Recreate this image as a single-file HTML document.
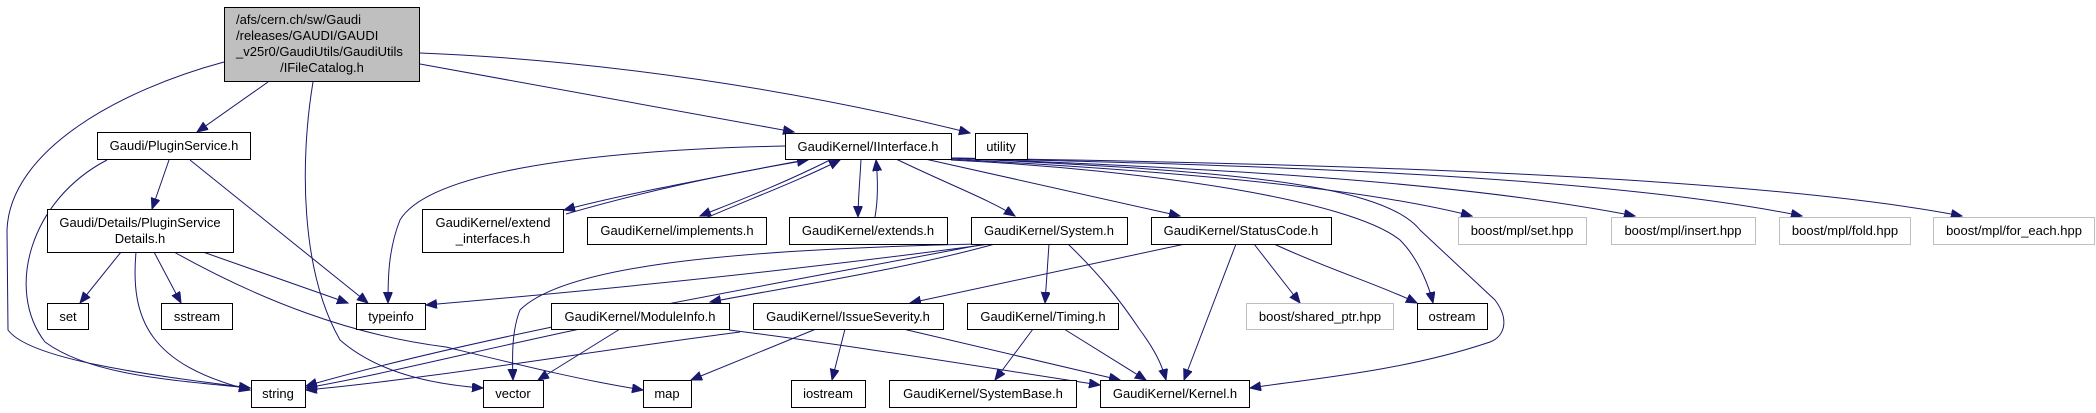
<!DOCTYPE html>
<html><head><meta charset="utf-8"><style>
html,body{margin:0;padding:0;background:#fff;}
svg{display:block;}
text{font-family:"Liberation Sans",Arial,sans-serif;font-size:13px;fill:#000;}
.e{fill:none;stroke:#191970;stroke-width:1;}
.n{fill:#fff;stroke:#000;stroke-width:1;}
.g{fill:#fff;stroke:#bfbfbf;stroke-width:1;}
</style></head><body>
<svg width="2096" height="413" viewBox="0 0 2096 413" xmlns="http://www.w3.org/2000/svg">
<defs>
<marker id="a" markerUnits="userSpaceOnUse" markerWidth="12" markerHeight="10" refX="11" refY="4.5" orient="auto">
<path d="M0,0 L11,4.5 L0,9 z" fill="#191970" stroke="#191970"/>
</marker>
</defs>
<g class="e" marker-end="url(#a)">
<!-- root -->
<path d="M224,62 C120,90 10,150 7,230 L8,330 C30,360 150,375 250,388"/>
<path d="M268,82 L197,132"/>
<path d="M313,82 C300,160 300,270 340,340 C380,375 440,385 483,388"/>
<path d="M420,64 L794,132"/>
<path d="M420,53 C600,60 800,90 970,133"/>
<!-- PluginService -->
<path d="M107,160 C30,200 5,290 45,342 C90,375 170,380 250,388"/>
<path d="M169,160 L152,209"/>
<path d="M190,160 L368,303"/>
<!-- Details -->
<path d="M121,252 L80,303"/>
<path d="M136,252 C130,320 150,365 250,390"/>
<path d="M154,252 L181,303"/>
<path d="M203,252 L348,303"/>
<path d="M174,252 C260,300 350,335 446,347 C520,365 580,380 643,390"/>
<!-- IInterface -->
<path d="M785,146 C600,150 430,170 400,220 C388,250 388,280 388,303"/>
<path d="M810,159 C700,180 620,195 564,210"/>
<path d="M566,214 C650,190 720,175 808,160"/>
<path d="M832,159 C780,185 740,200 700,216"/>
<path d="M706,218 C760,195 800,180 840,160"/>
<path d="M861,159 C860,180 858,200 858,217"/>
<path d="M875,217 C878,200 878,180 876,160"/>
<path d="M896,159 C950,185 990,200 1015,216"/>
<path d="M925,159 L1180,216"/>
<path d="M951,160 C1150,170 1350,200 1400,240 C1420,260 1430,290 1433,303"/>
<path d="M951,158 C1200,170 1380,180 1420,230 L1495,300 C1510,320 1505,338 1487,343 C1400,372 1300,380 1250,388"/>
<path d="M951,159 C1150,170 1350,185 1472,216"/>
<path d="M951,158 C1200,168 1450,180 1635,216"/>
<path d="M951,158 C1250,165 1600,175 1802,216"/>
<path d="M951,158 C1300,163 1750,175 1962,216"/>
<!-- System -->
<path d="M990,244 C800,270 600,290 426,305"/>
<path d="M985,244 C800,280 500,330 306,386"/>
<path d="M980,244 C700,250 560,270 520,310 C512,330 512,355 513,380"/>
<path d="M995,244 C900,270 800,285 710,302"/>
<path d="M1049,244 L1045,303"/>
<path d="M1068,244 C1100,275 1120,300 1140,330 C1155,350 1162,365 1166,380"/>
<!-- StatusCode -->
<path d="M1185,244 L910,303"/>
<path d="M1236,244 L1184,380"/>
<path d="M1254,244 L1300,303"/>
<path d="M1274,244 C1330,270 1380,285 1417,303"/>
<!-- ModuleInfo -->
<path d="M580,329 C480,350 380,375 306,388"/>
<path d="M620,329 L538,380"/>
<path d="M729,330 C850,345 1000,370 1100,385"/>
<!-- IssueSeverity -->
<path d="M740,332 C600,350 420,380 306,390"/>
<path d="M816,329 L691,380"/>
<path d="M845,329 L832,380"/>
<path d="M903,329 L1120,380"/>
<!-- Timing -->
<path d="M1033,329 L995,380"/>
<path d="M1064,329 L1146,380"/>
</g>
<!-- nodes -->
<rect x="224.5" y="7.5" width="195" height="74" fill="#bfbfbf" stroke="#000"/>
<text x="236" y="24">/afs/cern.ch/sw/Gaudi</text>
<text x="236" y="40">/releases/GAUDI/GAUDI</text>
<text x="236" y="56">_v25r0/GaudiUtils/GaudiUtils</text>
<text x="322" y="72" text-anchor="middle">/IFileCatalog.h</text>

<g>
<rect class="n" x="97.5" y="132.5" width="153" height="27"/><text x="174" y="150" text-anchor="middle">Gaudi/PluginService.h</text>
<rect class="n" x="47.5" y="209.5" width="186" height="43"/><text x="140" y="227" text-anchor="middle">Gaudi/Details/PluginService</text><text x="140" y="243" text-anchor="middle">Details.h</text>
<rect class="n" x="47.5" y="303.5" width="41" height="26"/><text x="68" y="321" text-anchor="middle">set</text>
<rect class="n" x="161.5" y="303.5" width="71" height="26"/><text x="197" y="321" text-anchor="middle">sstream</text>
<rect class="n" x="356.5" y="303.5" width="69" height="26"/><text x="391" y="321" text-anchor="middle">typeinfo</text>
<rect class="n" x="251.5" y="380.5" width="54" height="27"/><text x="278" y="398" text-anchor="middle">string</text>
<rect class="n" x="483.5" y="380.5" width="60" height="27"/><text x="513" y="398" text-anchor="middle">vector</text>
<rect class="n" x="643.5" y="380.5" width="48" height="27"/><text x="667" y="398" text-anchor="middle">map</text>
<rect class="n" x="422.5" y="209.5" width="141" height="43"/><text x="493" y="227" text-anchor="middle">GaudiKernel/extend</text><text x="493" y="243" text-anchor="middle">_interfaces.h</text>
<rect class="n" x="587.5" y="217.5" width="179" height="27"/><text x="677" y="235" text-anchor="middle">GaudiKernel/implements.h</text>
<rect class="n" x="551.5" y="303.5" width="178" height="26"/><text x="640" y="321" text-anchor="middle">GaudiKernel/ModuleInfo.h</text>
<rect class="n" x="785.5" y="133.5" width="166" height="26"/><text x="868" y="151" text-anchor="middle">GaudiKernel/IInterface.h</text>
<rect class="n" x="975.5" y="133.5" width="52" height="26"/><text x="1001" y="151" text-anchor="middle">utility</text>
<rect class="n" x="789.5" y="217.5" width="158" height="27"/><text x="868" y="235" text-anchor="middle">GaudiKernel/extends.h</text>
<rect class="n" x="971.5" y="217.5" width="156" height="27"/><text x="1049" y="235" text-anchor="middle">GaudiKernel/System.h</text>
<rect class="n" x="1151.5" y="217.5" width="180" height="27"/><text x="1241" y="235" text-anchor="middle">GaudiKernel/StatusCode.h</text>
<rect class="n" x="753.5" y="303.5" width="190" height="26"/><text x="848" y="321" text-anchor="middle">GaudiKernel/IssueSeverity.h</text>
<rect class="n" x="967.5" y="303.5" width="151" height="26"/><text x="1043" y="321" text-anchor="middle">GaudiKernel/Timing.h</text>
<rect class="g" x="1246.5" y="303.5" width="147" height="26"/><text x="1320" y="321" text-anchor="middle">boost/shared_ptr.hpp</text>
<rect class="n" x="1417.5" y="303.5" width="70" height="26"/><text x="1452" y="321" text-anchor="middle">ostream</text>
<rect class="n" x="791.5" y="380.5" width="74" height="27"/><text x="828" y="398" text-anchor="middle">iostream</text>
<rect class="n" x="889.5" y="380.5" width="187" height="27"/><text x="983" y="398" text-anchor="middle">GaudiKernel/SystemBase.h</text>
<rect class="n" x="1100.5" y="380.5" width="149" height="27"/><text x="1175" y="398" text-anchor="middle">GaudiKernel/Kernel.h</text>
<rect class="g" x="1458.5" y="217.5" width="128" height="27"/><text x="1522" y="235" text-anchor="middle">boost/mpl/set.hpp</text>
<rect class="g" x="1611.5" y="217.5" width="144" height="27"/><text x="1683" y="235" text-anchor="middle">boost/mpl/insert.hpp</text>
<rect class="g" x="1779.5" y="217.5" width="131" height="27"/><text x="1845" y="235" text-anchor="middle">boost/mpl/fold.hpp</text>
<rect class="g" x="1933.5" y="217.5" width="161" height="27"/><text x="2014" y="235" text-anchor="middle">boost/mpl/for_each.hpp</text>
</g>
</svg>
</body></html>
